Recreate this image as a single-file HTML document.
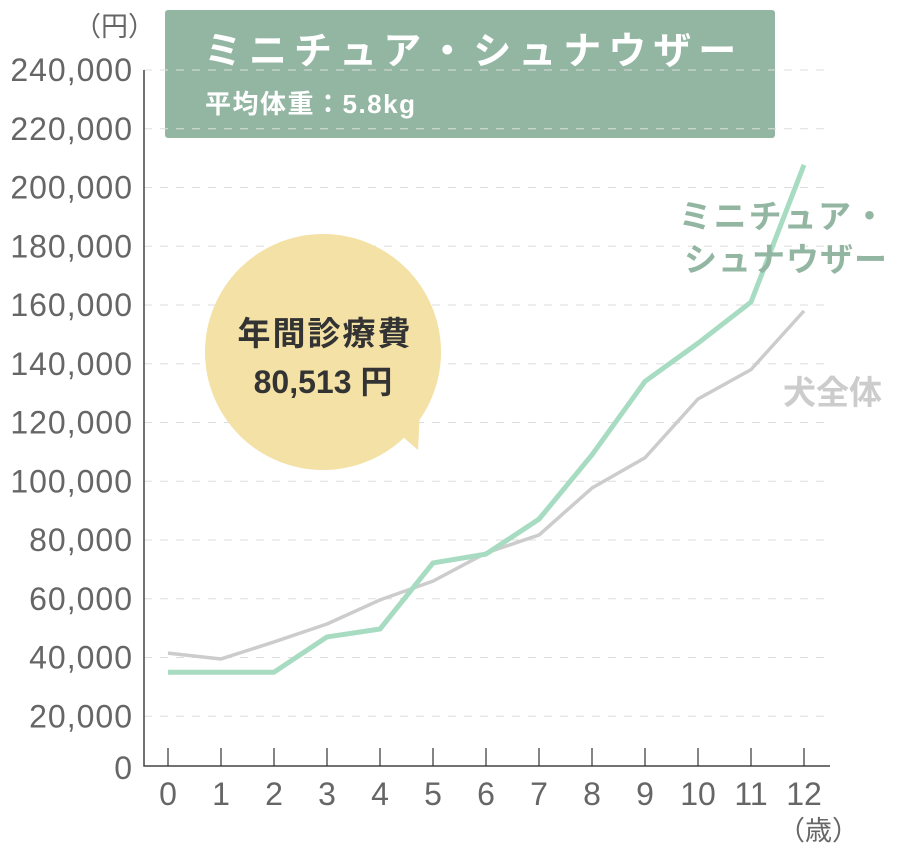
<!DOCTYPE html>
<html><head><meta charset="utf-8"><style>
body{margin:0;background:#fff;width:900px;height:847px;overflow:hidden;font-family:"Liberation Sans","Noto Sans CJK JP",sans-serif}
svg text{font-family:"Liberation Sans","Noto Sans CJK JP",sans-serif}
</style></head><body>
<svg id="c" width="900" height="847">
<rect x="165" y="10" width="610" height="128" rx="3" fill="#93b6a3"/>
<text x="204" y="64" font-size="38" font-weight="bold" fill="#fff" letter-spacing="7">ミニチュア・シュナウザー</text>
<text x="205" y="113" font-size="26" font-weight="bold" fill="#fff" letter-spacing="1.5">平均体重：5.8kg</text>
<text x="74" y="36" font-size="27" fill="#666">（円）</text>
<text x="778" y="840" font-size="27" fill="#666">（歳）</text>
<g id="grid"></g><g id="lines"></g>
<circle cx="323" cy="352" r="118" fill="#f3e1a6"/>
<polygon points="395,430 420,410 418,450" fill="#f3e1a6"/>
<text x="325" y="345" font-size="33" font-weight="bold" fill="#333" text-anchor="middle" letter-spacing="2">年間診療費</text>
<text x="323" y="393" font-size="32" font-weight="bold" fill="#333" text-anchor="middle">80,513 円</text>
<text x="888" y="228" font-size="33" font-weight="bold" fill="#93b6a3" text-anchor="end" letter-spacing="2">ミニチュア・</text>
<text x="888" y="271" font-size="33" font-weight="bold" fill="#93b6a3" text-anchor="end" letter-spacing="1">シュナウザー</text>
<text x="882" y="404" font-size="33" font-weight="bold" fill="#ccc" text-anchor="end">犬全体</text>
</svg>
<script>
const ages=[0,1,2,3,4,5,6,7,8,9,10,11,12];
const schnauzer=[35000,35000,35000,47000,49700,72200,75200,87100,109000,134000,147000,161000,207700];
const allDogs=[41500,39500,45300,51400,59600,66000,75600,81700,97700,108000,128000,138000,158000];
const yTicks=[0,20000,40000,60000,80000,100000,120000,140000,160000,180000,200000,220000,240000];
const NS="http://www.w3.org/2000/svg";
const xs=a=>168+a*53;
const ys=v=>775-v*58.75/20000;
const g=document.getElementById('grid'),L=document.getElementById('lines');
function mk(t,at,p){const e=document.createElementNS(NS,t);for(const k in at)e.setAttribute(k,at[k]);p.appendChild(e);return e;}
yTicks.forEach((v,i)=>{
 const y=ys(v);
 if(v>0){const l=mk('line',{x1:144,x2:830,y1:y,y2:y,stroke:'#ddd','stroke-dasharray':'8,8','stroke-width':1},g);
 
 }
 const t=mk('text',{x:133,y:(v==0?768:y)+11,'font-size':32,fill:'#666','text-anchor':'end','letter-spacing':1},g);
 t.textContent=v.toLocaleString('en-US');
 
 
});
const ax=mk('path',{d:'M144,70 V766 H830',fill:'none',stroke:'#444','stroke-width':1.5},g);


ages.forEach(a=>{
 const tk=mk('line',{x1:xs(a),x2:xs(a),y1:748,y2:766,stroke:'#333','stroke-width':1.2},g);
 
 
 const t=mk('text',{x:xs(a),y:805,'font-size':32,fill:'#666','text-anchor':'middle'},g);
 t.textContent=a;
 
 
});
function line(d,c,w,n){const p=mk('polyline',{points:d.map((v,i)=>xs(ages[i])+','+ys(v)).join(' '),fill:'none',stroke:c,'stroke-width':w,'stroke-linejoin':'round'},L);

}
line(allDogs,'#cccccc',3.5,'all-dogs-line');
line(schnauzer,'#a8dcc2',5,'schnauzer-line');
</script>
</body></html>
